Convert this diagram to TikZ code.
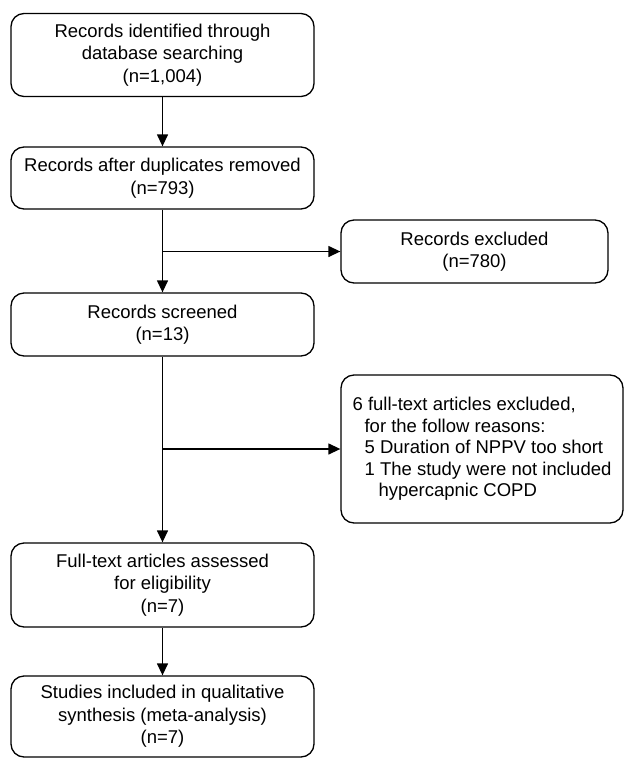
\documentclass[tikz,border=0pt]{standalone}
\usepackage{fontspec}
\setmainfont{Liberation Sans}
\usetikzlibrary{arrows.meta}
\tikzset{
    box/.style={draw=black, line width=1.3pt, rounded corners=13pt, align=center, inner sep=0,
        minimum width=303pt, font=\fontsize{18.5}{22.5}\selectfont},
    flow/.style={line width=1.3pt, -{Triangle[length=12pt,width=11pt]}}
}

\begin{document}
\begin{tikzpicture}[x=1pt,y=-1pt]
    \useasboundingbox (0,0) rectangle (624,758);
    \node[box, minimum height=83pt] (ident) at (162.5,55) {Records identified through\\database searching\\(n=1,004)};
    \node[box, minimum height=62pt] (dedup) at (162.5,178) {Records after duplicates removed\\(n=793)};
    \node[box, minimum height=63pt] (screen) at (162.5,324.5) {Records screened\\(n=13)};
    \node[box, minimum height=84pt] (fulltext) at (162.5,585) {Full-text articles assessed\\for eligibility\\(n=7)};
    \node[box, minimum height=81pt] (incl) at (162.5,716.5) {Studies included in qualitative\\synthesis (meta-analysis)\\(n=7)};
    \node[box, minimum width=267pt, minimum height=63pt] (excl) at (474.5,251.5) {Records excluded\\(n=780)};
    \node[box, minimum width=282pt, minimum height=148pt, align=left, font=\fontsize{18.5}{21.5}\selectfont] (exclft) at (482,449)
        {6 full-text articles excluded,\\\hspace*{12pt}for the follow reasons:\\\hspace*{12pt}5 Duration of NPPV too short\\\hspace*{12pt}1 The study were not included\\\hspace*{26pt}hypercapnic COPD};
    \coordinate (fork1) at (dedup.south |- excl.west);
    \coordinate (fork2) at (screen.south |- exclft.west);
    \draw[flow] (ident) -- (dedup);
    \draw[flow] (dedup) -- (screen);
    \draw[flow] (screen) -- (fulltext);
    \draw[flow] (fulltext) -- (incl);
    \draw[flow] (fork1) -- (excl);
    \draw[flow] (fork2) -- (exclft);
\end{tikzpicture}
\end{document}
